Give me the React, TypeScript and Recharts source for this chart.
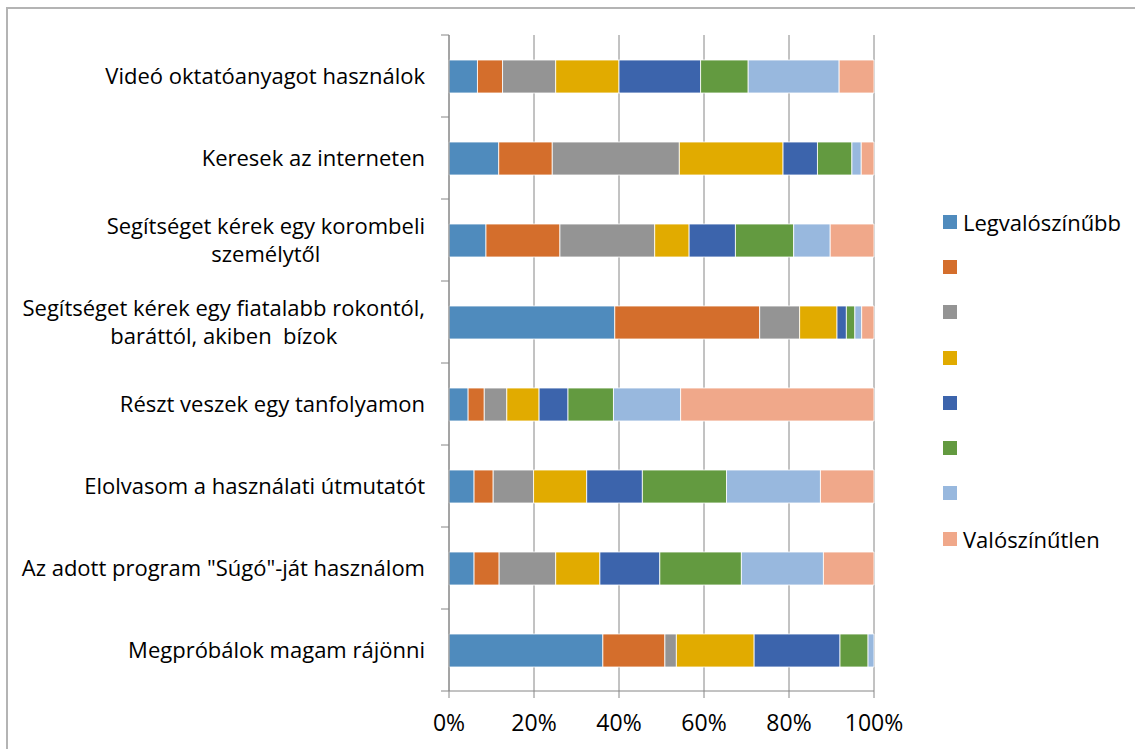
import React from "react";
import { Bar, BarChart, CartesianGrid, Legend, XAxis, YAxis } from "recharts";

// categories, top to bottom; "\n" marks where Excel wrapped the label
const categories = [
  "Videó oktatóanyagot használok",
  "Keresek az interneten",
  "Segítséget kérek egy korombeli\nszemélytől",
  "Segítséget kérek egy fiatalabb rokontól,\nbaráttól, akiben  bízok",
  "Részt veszek egy tanfolyamon",
  "Elolvasom a használati útmutatót",
  "Az adott program \"Súgó\"-ját használom",
  "Megpróbálok magam rájönni",
];

// share of answers per scale step (1 = most likely ... 8 = unlikely)
const s1 = [6.7, 11.7, 8.7, 39.0, 4.5, 5.9, 5.9, 36.2];
const s2 = [5.9, 12.6, 17.4, 34.1, 3.8, 4.5, 5.9, 14.6];
const s3 = [12.5, 29.9, 22.3, 9.4, 5.3, 9.5, 13.3, 2.7];
const s4 = [14.9, 24.4, 8.1, 8.8, 7.6, 12.5, 10.4, 18.3];
const s5 = [19.2, 8.1, 10.9, 2.2, 6.8, 13.1, 14.1, 20.2];
const s6 = [11.2, 8.1, 13.7, 2.0, 10.7, 19.8, 19.2, 6.6];
const s7 = [21.4, 2.2, 8.6, 1.6, 15.8, 22.1, 19.3, 1.4];
const s8 = [8.2, 3.0, 10.3, 2.9, 45.5, 12.6, 11.9, 0];

const seriesValues = [s1, s2, s3, s4, s5, s6, s7, s8];
const seriesLabels = ["Legvalószínűbb", "", "", "", "", "", "", "Valószínűtlen"];
const colors = [
  "#4F8BBD", "#D46E2C", "#949494", "#E1AB00",
  "#3C64AC", "#639A40", "#98B8DE", "#F0A88A",
];
const xTicks = [0, 0.2, 0.4, 0.6, 0.8, 1];

const data = categories.map((name, i) => {
  const row: Record<string, string | number> = { name };
  seriesValues.forEach((vals, k) => (row["s" + (k + 1)] = vals[i]));
  return row;
});

const W = 1135;
const H = 749;
const TOP = 35;
const X_AXIS_H = 58;
const Y_AXIS_W = 449;
const RIGHT = 260;
const BAND = (H - TOP - X_AXIS_H) / categories.length;
const FONT = '"Open Sans", sans-serif';
const FS = 22;
const AXIS = "#868686";

let ctx: CanvasRenderingContext2D | null = null;
function measure(t: string) {
  if (!ctx) {
    ctx = document.createElement("canvas").getContext("2d");
    if (ctx) ctx.font = `${FS}px "Open Sans"`;
  }
  return ctx ? ctx.measureText(t).width : t.length * 10;
}

function CategoryTick(props: any) {
  const { x, y, payload, index } = props;
  const lines = String(payload.value).split("\n");
  const maxW = Math.max(...lines.map(measure));
  const cx = x - maxW / 2;
  const n = lines.length;
  return (
    <g>
      <line x1={Y_AXIS_W - 8} x2={Y_AXIS_W} y1={y + BAND / 2} y2={y + BAND / 2} stroke={AXIS} />
      {index === 0 && (
        <line x1={Y_AXIS_W - 8} x2={Y_AXIS_W} y1={y - BAND / 2} y2={y - BAND / 2} stroke={AXIS} />
      )}
      <text textAnchor="middle" fontFamily={FONT} fontSize={FS} fill="#000" style={{ whiteSpace: "pre" }}>
        {lines.map((l, i) => (
          <tspan key={i} x={cx} y={y + (i - (n - 1) / 2) * 28} dy="0.35em">
            {l}
          </tspan>
        ))}
      </text>
    </g>
  );
}

function LegendBox(props: any) {
  const items = [...(props.payload || [])]
    .map((it: any) => Number(String(it.dataKey).slice(1)) - 1)
    .sort((a, b) => a - b);
  return (
    <div style={{ fontFamily: FONT, fontSize: FS, color: "#000", whiteSpace: "nowrap", width: 200 }}>
      {items.map((k) => (
        <div key={k} style={{ height: 45.3, display: "flex", alignItems: "center" }}>
          <span
            style={{
              width: 14, height: 14, flexShrink: 0, background: colors[k],
              display: "inline-block", marginRight: 6,
            }}
          />
          <span>{seriesLabels[k]}</span>
        </div>
      ))}
    </div>
  );
}

export default function App() {
  return (
    <div style={{ position: "fixed", left: 0, top: 0, width: W, height: H, overflow: "hidden", background: "#fff" }}>
      <div
        style={{
          position: "absolute", left: 6, top: 7, width: W + 20, height: H + 20,
          border: "2px solid #b4b4b4", boxSizing: "border-box",
        }}
      />
      <div style={{ position: "absolute", left: 0, top: 0 }}>
        <BarChart
          width={W}
          height={H}
          data={data}
          layout="vertical"
          stackOffset="expand"
          barSize={33}
          margin={{ top: TOP, right: RIGHT, bottom: 0, left: 0 }}
        >
          <CartesianGrid horizontal={false} stroke={AXIS} />
          <XAxis
            type="number"
            domain={[0, 1]}
            ticks={xTicks}
            interval={0}
            tickFormatter={(v: number) => Math.round(v * 100) + "%"}
            height={X_AXIS_H}
            stroke={AXIS}
            tickSize={7}
            tickMargin={17}
            tick={{ fill: "#000", fontSize: 23, fontFamily: FONT }}
          />
          <YAxis
            type="category"
            dataKey="name"
            width={Y_AXIS_W}
            interval={0}
            tickLine={false}
            tickSize={8}
            tickMargin={16}
            stroke={AXIS}
            tick={<CategoryTick />}
          />
          <Legend
            layout="vertical"
            align="right"
            verticalAlign="top"
            content={<LegendBox />}
            wrapperStyle={{ position: "absolute", left: 943, top: 199, width: 1, height: 1 }}
          />
          {seriesValues.map((_, k) => (
            <Bar
              key={k}
              dataKey={"s" + (k + 1)}
              name={seriesLabels[k] || " "}
              stackId="a"
              fill={colors[k]}
              stroke="#ffffff"
              strokeWidth={0.8}
              isAnimationActive={false}
            />
          ))}
        </BarChart>
      </div>
    </div>
  );
}
